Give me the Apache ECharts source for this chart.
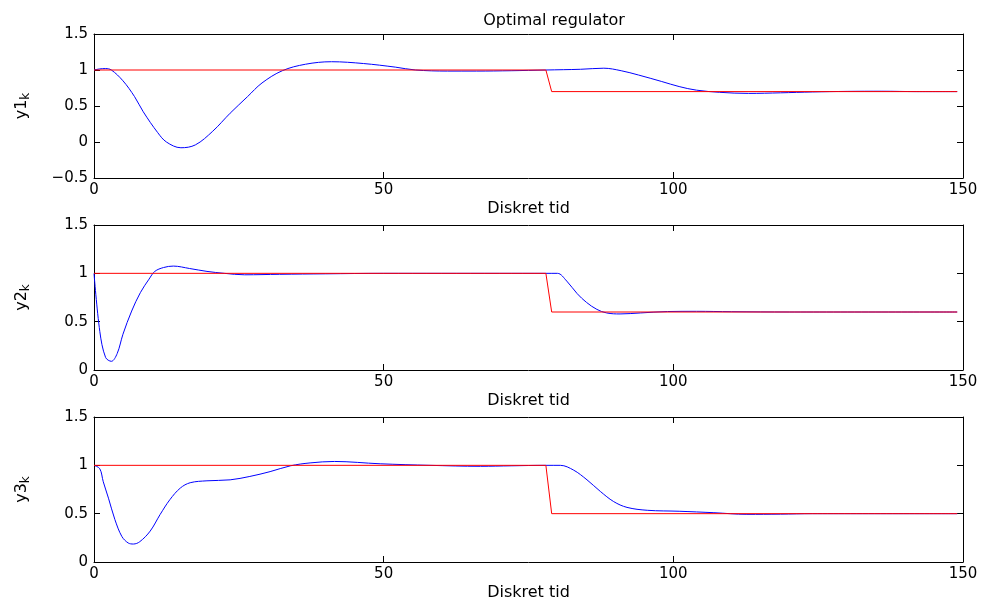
<!DOCTYPE html>
<html>
<head>
<meta charset="utf-8">
<script src="https://cdn.jsdelivr.net/npm/echarts@6/dist/echarts.min.js"></script>
<style>html,body{margin:0;padding:0;background:#fff}#c{width:984px;height:601px}</style>
</head>
<body>
<div id="c"></div>
<script>
// ---- data ----
const titleText = 'Optimal regulator';
const xLabel = 'Diskret tid';
const yNames = ['y1', 'y2', 'y3'];
const xTicks = [0, 50, 100, 150];

// reference (setpoint) signals
const kRef = [0, 78, 79, 149];
const ref1 = [1, 1, 0.7, 0.7];
const ref2 = [1, 1, 0.6, 0.6];
const ref3 = [1, 1, 0.5, 0.5];

// outputs
const k1 = [0, 1, 2, 3, 5, 7, 8.5, 11, 12.5, 15, 17.5, 20.5, 23.5, 26.5, 29, 32.5, 36.5, 41, 46.5, 52, 55.5, 61, 66, 72, 78, 84, 88, 91, 94, 98, 101, 104, 108, 113, 118.5, 124, 130, 136, 142, 149];
const y1 = [1.0, 1.015, 1.02, 1.0, 0.85, 0.63, 0.42, 0.13, 0.0, -0.08, -0.04, 0.15, 0.40, 0.63, 0.82, 0.99, 1.08, 1.115, 1.09, 1.04, 1.0, 0.985, 0.985, 0.99, 1.0, 1.01, 1.025, 0.99, 0.93, 0.84, 0.77, 0.72, 0.69, 0.675, 0.683, 0.695, 0.703, 0.705, 0.70, 0.70];

const k2 = [0, 1, 2, 3, 4, 5, 6.5, 8, 9.5, 10.5, 12, 13.7, 16.5, 19.5, 22.5, 26, 32, 40, 50, 60, 70, 78, 80, 81.6, 83.4, 85, 86.8, 88.5, 90.8, 94.3, 99, 104, 110, 120, 149];
const y2 = [1.0, 0.40, 0.13, 0.09, 0.17, 0.37, 0.61, 0.80, 0.94, 1.02, 1.06, 1.075, 1.05, 1.02, 1.0, 0.985, 0.99, 0.995, 1.0, 1.0, 1.0, 1.0, 1.0, 0.92, 0.79, 0.70, 0.627, 0.59, 0.58, 0.59, 0.605, 0.607, 0.603, 0.6, 0.6];

const k3 = [0, 1, 1.6, 2.5, 3.6, 4.8, 5.9, 6.8, 7.9, 9.7, 11.4, 13.1, 14.9, 16.6, 19.5, 23.5, 26.9, 30.4, 33.9, 37.3, 41.5, 49.4, 58, 66.7, 72, 78, 80.5, 82.8, 85.1, 87.4, 89.7, 92, 95.5, 101, 107, 112.7, 118.5, 124, 149];
const y3 = [1.0, 0.965, 0.83, 0.66, 0.44, 0.265, 0.197, 0.186, 0.21, 0.32, 0.49, 0.645, 0.765, 0.82, 0.84, 0.85, 0.885, 0.935, 0.995, 1.025, 1.04, 1.016, 1.0, 0.99, 0.995, 1.0, 1.0, 0.95, 0.85, 0.73, 0.625, 0.565, 0.535, 0.525, 0.51, 0.493, 0.495, 0.5, 0.5];

const yMins = [-0.5, 0, 0];
const yMax = 1.5;
const yStep = 0.5;

// ---- chart ----
const zip = (a, b) => a.map((v, i) => [v, b[i]]);
const FONT = 'DejaVu Sans';
const grids = [
  {left: 94, right: 21, top: 34, height: 144, outerBoundsMode: 'none', containLabel: false},
  {left: 94, right: 21, top: 225, height: 145, outerBoundsMode: 'none', containLabel: false},
  {left: 94, right: 21, top: 417, height: 145, outerBoundsMode: 'none', containLabel: false}
];
const lineStyle = {color: '#000', width: 1};
const tick = {show: true, inside: true, length: 6, lineStyle: lineStyle};
const xAxes = [], yAxes = [];
for (let i = 0; i < 3; i++) {
  xAxes.push({
    type: 'value', gridIndex: i, min: xTicks[0], max: xTicks[xTicks.length - 1], interval: 50,
    position: 'bottom', axisLine: {show: true, onZero: false, lineStyle: lineStyle},
    axisTick: tick, splitLine: {show: false},
    axisLabel: {color: '#000', fontFamily: FONT, fontSize: 15, margin: 5},
    name: xLabel, nameLocation: 'middle', nameGap: 23,
    nameTextStyle: {color: '#000', fontFamily: FONT, fontSize: 16}
  });
}
for (let i = 0; i < 3; i++) {
  xAxes.push({
    type: 'value', gridIndex: i, min: xTicks[0], max: xTicks[xTicks.length - 1], interval: 50,
    position: 'top', axisLine: {show: true, onZero: false, lineStyle: lineStyle},
    axisTick: tick, splitLine: {show: false}, axisLabel: {show: false}
  });
}
for (let i = 0; i < 3; i++) {
  yAxes.push({
    type: 'value', gridIndex: i, min: yMins[i], max: yMax, interval: yStep,
    position: 'left', axisLine: {show: true, onZero: false, lineStyle: lineStyle},
    axisTick: tick, splitLine: {show: false},
    axisLabel: {color: '#000', fontFamily: FONT, fontSize: 15, margin: 6,
      formatter: v => String(v).replace('-', '\u2212')},
    name: yNames[i] + '{s|k}', nameLocation: 'middle', nameGap: 62, nameRotate: 90,
    nameTextStyle: {color: '#000', fontFamily: FONT, fontSize: 16,
      rich: {s: {fontFamily: FONT, fontSize: 12, color: '#000', verticalAlign: 'bottom', padding: [9, 0, 0, 0]}}}
  });
}
for (let i = 0; i < 3; i++) {
  yAxes.push({
    type: 'value', gridIndex: i, min: yMins[i], max: yMax, interval: yStep,
    position: 'right', axisLine: {show: true, onZero: false, lineStyle: lineStyle},
    axisTick: tick, splitLine: {show: false}, axisLabel: {show: false}
  });
}
const mk = (data, color, i) => ({
  type: 'line', xAxisIndex: i, yAxisIndex: i, data: data, showSymbol: false,
  smooth: color === '#0000ff' ? 0.35 : false, animation: false,
  lineStyle: {color: color, width: 1}, itemStyle: {color: color}
});
const option = {
  animation: false,
  title: {text: titleText, left: 549, top: 8, textAlign: 'center',
    textStyle: {fontFamily: FONT, fontSize: 16, fontWeight: 'normal', color: '#000'}},
  grid: grids,
  xAxis: xAxes,
  yAxis: yAxes,
  series: [
    mk(zip(k1, y1), '#0000ff', 0), mk(zip(kRef, ref1), '#ff0000', 0),
    mk(zip(k2, y2), '#0000ff', 1), mk(zip(kRef, ref2), '#ff0000', 1),
    mk(zip(k3, y3), '#0000ff', 2), mk(zip(kRef, ref3), '#ff0000', 2)
  ]
};
const chart = echarts.init(document.getElementById('c'), null, {renderer: 'canvas'});
chart.setOption(option);
</script>
</body>
</html>
